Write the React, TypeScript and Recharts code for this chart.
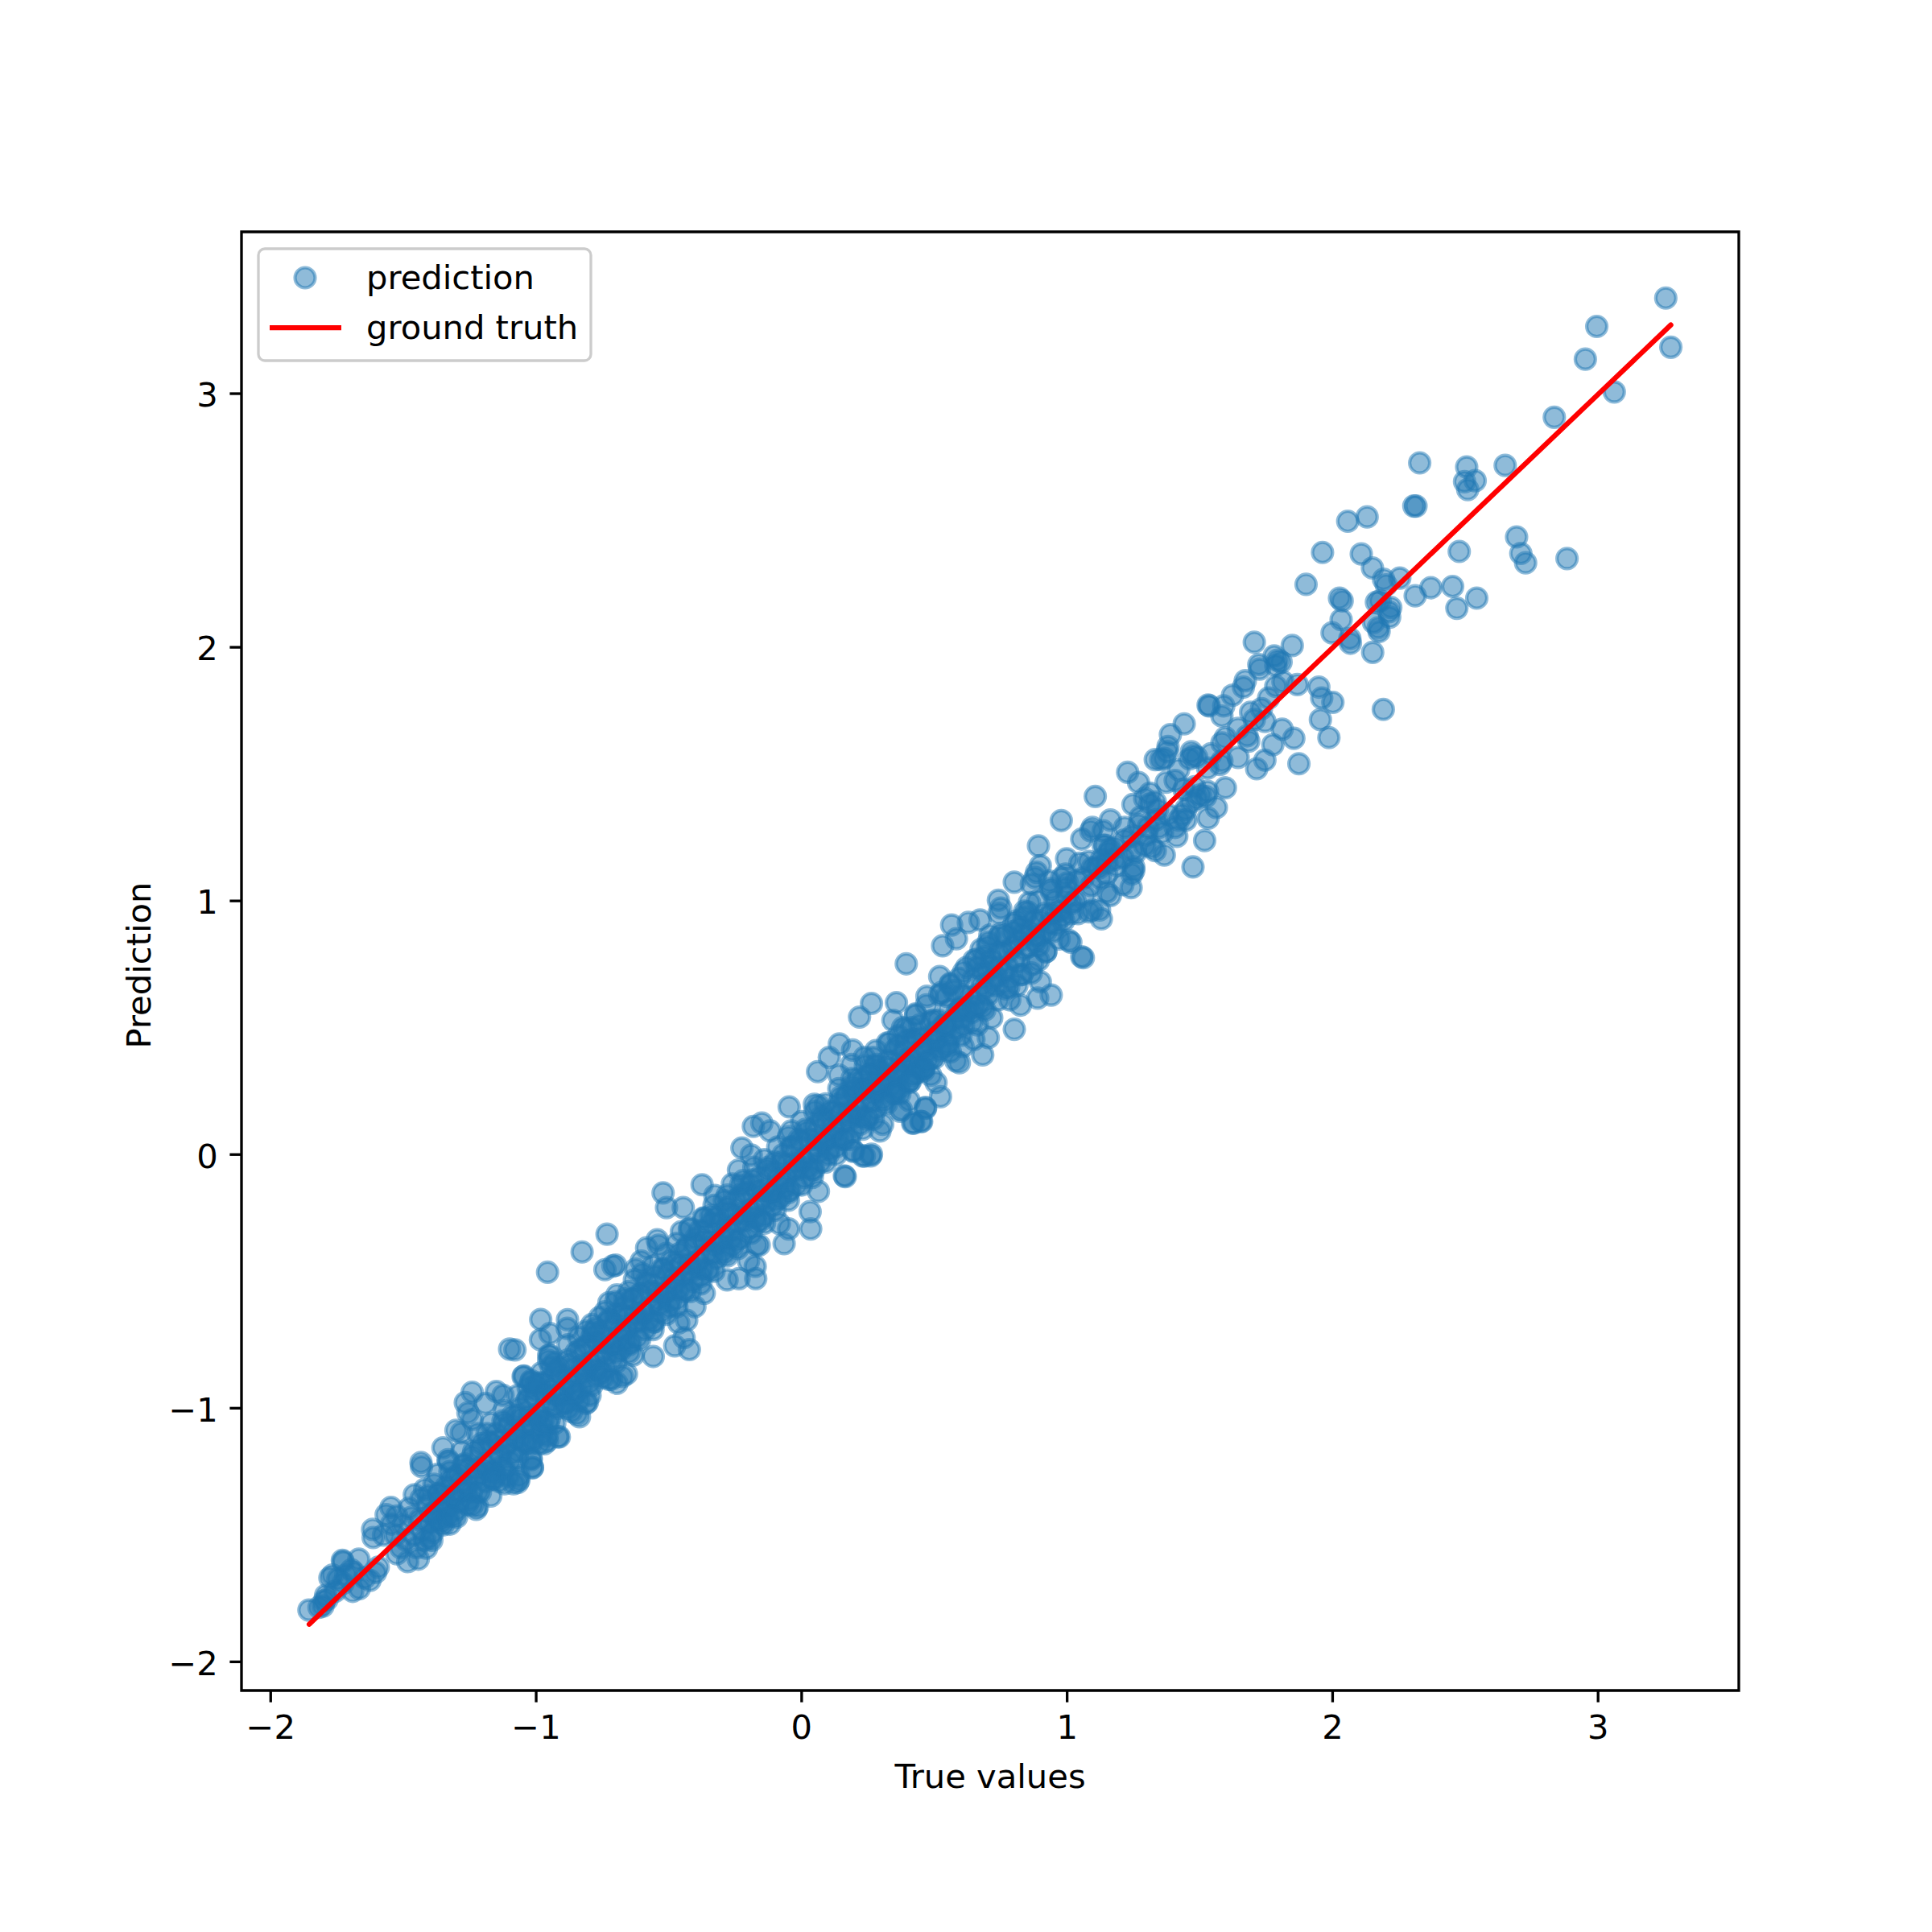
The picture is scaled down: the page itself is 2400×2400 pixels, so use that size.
import { Legend, ReferenceArea, Scatter, ScatterChart, XAxis, YAxis } from "recharts";

type Pair = [number, number];

const xTicks = [-2, -1, 0, 1, 2, 3];
const yTicks = [-2, -1, 0, 1, 2, 3];
const xDomain: Pair = [-2.11, 3.53];
const yDomain: Pair = [-2.113, 3.638];
const groundTruth: Pair[] = [[-1.855, -1.852], [3.274, 3.271]];

const upperTail: Pair[] = [
  [3.255, 3.377], [2.995, 3.265], [2.952, 3.136], [3.274, 3.183], [3.061, 3.007], [2.835, 2.907], [2.328, 2.727],
  [2.505, 2.711], [2.65, 2.717], [2.497, 2.653], [2.537, 2.657], [2.509, 2.622], [2.306, 2.557], [2.314, 2.557],
  [2.057, 2.497], [2.13, 2.514], [1.962, 2.374], [2.108, 2.368], [2.477, 2.378], [2.693, 2.435],
  [2.709, 2.37], [2.727, 2.333], [2.883, 2.35], [1.9, 2.248], [2.15, 2.313], [2.192, 2.268], [2.202, 2.246],
  [2.253, 2.273], [2.311, 2.203], [2.37, 2.235], [2.452, 2.24], [2.543, 2.194], [2.468, 2.154], [2.026, 2.194],
  [2.036, 2.183], [2.032, 2.109], [1.998, 2.057], [2.179, 2.183], [2.165, 2.178], [2.219, 2.157],
  [2.212, 2.14], [2.215, 2.119], [2.154, 2.098], [2.172, 2.077], [2.175, 2.062], [2.065, 2.034], [2.067, 2.016],
  [2.151, 1.98], [2.191, 1.755], [1.705, 2.02], [1.848, 2.007], [1.78, 1.966], [1.793, 1.949],
  [1.786, 1.928], [1.806, 1.942], [1.722, 1.932], [1.725, 1.914], [1.671, 1.868], [1.664, 1.843], [1.623, 1.811],
  [1.59, 1.769], [1.583, 1.729], [1.535, 1.769], [1.948, 1.843], [1.959, 1.8], [2.001, 1.783], [1.954, 1.715],
  [1.986, 1.644], [1.813, 1.864], [1.867, 1.853], [1.786, 1.846], [1.759, 1.8], [1.732, 1.758], [1.691, 1.744],
  [1.745, 1.708], [1.705, 1.715], [1.81, 1.677], [1.854, 1.641], [1.775, 1.616], [1.745, 1.555],
  [1.714, 1.521], [1.873, 1.541], [1.644, 1.566], [1.678, 1.651], [1.684, 1.63], [1.644, 1.68], [1.596, 1.644],
  [1.583, 1.623], [1.583, 1.552], [1.576, 1.538], [1.596, 1.446], [1.542, 1.58], [1.529, 1.524],
];

const middleBand: Pair[] = [
  [1.441, 1.698], [1.389, 1.656], [1.38, 1.609], [1.377, 1.588], [1.531, 1.772], [1.332, 1.557], [1.353, 1.557],
  [1.366, 1.562], [1.468, 1.588], [1.474, 1.574], [1.461, 1.56], [1.488, 1.567], [1.228, 1.507], [1.269, 1.467],
  [1.106, 1.412], [0.978, 1.317], [1.312, 1.425], [1.292, 1.404], [1.332, 1.39], [1.312, 1.382], [1.248, 1.38],
  [1.373, 1.468], [1.407, 1.475], [1.42, 1.517], [1.562, 1.368], [1.531, 1.326], [1.518, 1.238], [1.474, 1.134],
  [1.501, 1.418], [1.522, 1.411], [1.488, 1.404], [1.529, 1.432], [1.468, 1.39], [1.447, 1.361], [1.434, 1.34],
  [1.42, 1.319], [1.447, 1.319], [1.407, 1.29], [1.413, 1.255], [1.359, 1.269], [1.346, 1.29], [1.366, 1.181],
  [1.319, 1.212], [1.332, 1.198], [1.292, 1.219], [1.258, 1.191], [1.163, 1.319], [1.217, 1.29], [1.095, 1.29],
  [1.089, 1.276], [1.055, 1.244], [1.136, 1.276], [1.143, 1.219], [1.244, 1.255], [0.892, 1.217], [0.899, 1.139],
  [0.885, 1.113], [0.879, 1.092], [0.865, 1.066], [0.998, 1.166], [0.994, 1.106], [1.001, 1.071], [0.933, 1.078],
  [0.94, 1.049], [0.801, 1.074], [1.048, 1.149], [1.082, 1.156], [1.109, 1.134], [1.163, 1.205], [1.136, 1.219],
  [1.129, 1.163], [1.149, 1.106], [1.177, 1.163], [1.251, 1.12], [1.244, 1.106], [1.251, 1.134], [1.21, 1.064],
  [1.241, 1.052], [1.163, 1.021], [1.149, 1.035], [1.095, 0.964], [1.129, 0.929], [1.122, 0.964], [1.082, 0.957],
  [1.014, 0.95], [1.041, 0.95], [0.987, 0.922], [0.96, 0.908], [1.007, 0.844], [1.055, 0.78], [1.061, 0.776],
  [0.741, 1.003], [0.75, 0.972], [0.743, 0.95], [0.858, 0.993], [0.852, 0.957], [0.838, 0.936],
  [0.811, 0.922], [0.824, 0.894], [0.797, 0.879], [0.77, 0.865], [0.743, 0.858], [0.709, 0.865], [0.703, 0.837],
  [0.565, 0.905], [0.628, 0.915], [0.672, 0.925], [0.583, 0.851], [0.531, 0.823], [0.394, 0.752], [0.676, 0.809],
  [0.649, 0.766], [0.621, 0.738], [0.662, 0.738], [0.689, 0.78], [0.716, 0.766], [0.743, 0.794], [0.919, 0.799],
  [0.892, 0.823], [0.879, 0.865], [0.946, 0.879], [1.014, 0.837], [0.892, 0.766], [0.865, 0.716], [0.899, 0.681],
  [0.889, 0.617], [0.94, 0.629], [0.824, 0.589], [0.784, 0.61], [0.801, 0.494], [0.824, 0.709], [0.811, 0.667],
  [0.77, 0.653], [0.784, 0.695], [0.73, 0.667], [0.703, 0.631], [0.682, 0.582], [0.662, 0.511], [0.716, 0.539],
  [0.52, 0.702], [0.594, 0.695], [0.56, 0.674], [0.574, 0.646], [0.527, 0.639], [0.472, 0.624], [0.547, 0.624],
  [0.429, 0.554], [0.357, 0.599], [0.344, 0.529], [0.263, 0.596], [0.218, 0.542], [0.486, 0.525], [0.445, 0.511],
  [0.391, 0.497], [0.364, 0.468], [0.323, 0.44], [0.418, 0.454], [0.351, 0.412], [0.391, 0.412], [0.459, 0.426],
  [0.5, 0.483], [0.54, 0.511], [0.594, 0.568], [0.608, 0.539], [0.649, 0.582], [0.682, 0.393], [0.594, 0.362],
  [0.581, 0.369], [0.56, 0.405], [0.649, 0.454], [0.703, 0.461], [0.608, 0.426], [0.523, 0.228], [0.506, 0.284],
  [0.486, 0.313], [0.459, 0.341], [0.418, 0.313], [0.472, 0.369], [0.466, 0.185], [0.449, 0.131], [0.418, 0.124],
  [0.371, 0.171], [0.405, 0.213], [0.142, 0.436], [0.192, 0.412], [0.104, 0.383], [0.06, 0.327], [0.188, 0.355],
  [0.141, 0.313], [0.236, 0.383], [0.269, 0.383], [0.283, 0.355], [0.323, 0.341], [0.364, 0.313], [0.405, 0.284],
  [0.351, 0.242], [0.283, 0.284], [0.256, 0.313], [0.229, 0.256], [0.188, 0.27], [0.148, 0.228], [0.263, 0.001],
  [0.236, -0.006], [0.195, 0.015], [0.161, -0.084],
];

const zeroBand: Pair[] = [
  [-0.047, 0.188], [0.048, 0.198], [0.063, 0.193], [-0.182, 0.111], [-0.15, 0.124], [-0.119, 0.093], [-0.039, 0.093],
  [-0.225, 0.026], [-0.19, -0.002], [-0.238, -0.061], [-0.261, -0.116], [-0.22, -0.103], [-0.375, -0.119],
  [-0.327, -0.161], [-0.291, -0.182], [-0.522, -0.151], [-0.509, -0.209], [-0.446, -0.209], [-0.367, -0.251],
  [-0.342, -0.241], [-0.453, -0.304], [-0.423, -0.294], [-0.544, -0.336], [-0.584, -0.368], [-0.539, -0.357],
  [-0.733, -0.314], [-0.827, -0.384], [-0.957, -0.464], [-0.741, -0.454], [-0.711, -0.439], [-0.701, -0.436],
  [-0.604, -0.42], [-0.625, -0.452], [-0.63, -0.494], [-0.696, -0.553], [-0.726, -0.584], [-0.665, -0.569],
  [-0.761, -0.642], [-0.983, -0.65], [-0.882, -0.651], [-0.883, -0.685], [-0.948, -0.706], [-0.984, -0.73],
  [-0.812, -0.696], [-0.776, -0.685], [-0.948, -0.791], [-0.953, -0.812], [-0.943, -0.838], [-1.08, -0.77],
  [-1.049, -0.875], [-1.019, -0.897], [-0.999, -0.907], [0.164, -0.087], [0.23, -0.005], [0.26, -0.005],
  [0.194, 0.013], [0.295, 0.093], [0.305, 0.119], [0.376, 0.177], [0.422, 0.124], [0.452, 0.13], [0.467, 0.183],
  [0.032, -0.225], [0.034, -0.293], [0.063, -0.145], [-0.066, -0.351], [-0.049, -0.293], [-0.084, -0.272],
  [-0.17, -0.357], [-0.16, -0.357], [-0.175, -0.441], [-0.173, -0.489], [-0.236, -0.489], [-0.281, -0.494],
  [-0.2, -0.42], [-0.367, -0.547], [-0.402, -0.6], [-0.433, -0.653], [-0.463, -0.664], [-0.443, -0.722],
  [-0.423, -0.769], [-0.478, -0.754], [-0.559, -0.796], [-0.635, -0.791], [-0.66, -0.865], [-0.696, -0.902],
  [-0.726, -0.886], [-0.807, -0.976], [-0.837, -1.034], [-0.867, -1.013], [-0.918, -1.113], [-0.958, -1.129],
  [-0.989, -1.14], [-1.019, -1.198], [-1.014, -1.233], [-1.065, -1.283],
];

const lowerTail: Pair[] = [
  [-1.1, -0.767], [-0.953, -0.791], [-1.046, -0.873], [-1.019, -0.891], [-1.241, -0.937], [-1.15, -0.934],
  [-1.125, -0.949], [-1.267, -0.978], [-1.191, -0.981], [-1.257, -1.018], [-1.241, -1.045], [-1.302, -1.087],
  [-1.282, -1.097], [-1.351, -1.156], [-1.332, -1.203], [-1.434, -1.214], [-1.432, -1.23], [-1.459, -1.341],
  [-1.434, -1.357], [-1.479, -1.394], [-1.547, -1.391], [-1.565, -1.42], [-1.525, -1.425], [-1.545, -1.457],
  [-1.616, -1.478], [-1.614, -1.51], [-1.575, -1.5], [-1.668, -1.595], [-1.73, -1.6], [-1.727, -1.605],
  [-1.767, -1.658], [-1.747, -1.674], [-1.777, -1.669], [-1.793, -1.738], [-1.798, -1.759], [-1.803, -1.78],
  [-1.856, -1.796], [-1.691, -1.722], [-1.717, -1.658], [-1.686, -1.648], [-1.646, -1.669], [-1.605, -1.648],
  [-1.595, -1.627], [-1.626, -1.679], [-1.666, -1.711], [-1.696, -1.637], [-1.727, -1.69], [-1.757, -1.722],
  [-1.787, -1.753], [-1.818, -1.785], [-1.484, -1.605], [-1.444, -1.595], [-1.525, -1.574], [-1.413, -1.552],
  [-1.393, -1.521], [-1.325, -1.457], [-1.332, -1.425], [-1.312, -1.425], [-1.226, -1.399], [-1.221, -1.388],
  [-1.171, -1.346], [-1.241, -1.383], [-1.07, -1.293], [-1.085, -1.298], [-1.12, -1.298], [-1.14, -1.288],
  [-1.161, -1.277], [-1.105, -1.267], [-1.065, -1.267], [-1.014, -1.235], [-1.019, -1.203], [-0.969, -1.14],
  [-0.913, -1.113], [-0.958, -1.108], [-0.847, -1.023], [-0.812, -0.981], [-0.797, -0.949], [-0.716, -0.886],
  [-0.675, -0.875],
];

// estimated inside the solid part of the band, single points can't be told apart there
const coreLow: Pair[] = [
  [-1.53, -1.5], [-1.51, -1.55], [-1.5, -1.46], [-1.49, -1.52], [-1.47, -1.43], [-1.46, -1.5], [-1.45, -1.55],
  [-1.44, -1.44], [-1.43, -1.48], [-1.42, -1.52], [-1.41, -1.38], [-1.4, -1.45], [-1.39, -1.49], [-1.38, -1.41],
  [-1.37, -1.34], [-1.36, -1.44], [-1.35, -1.38], [-1.34, -1.31], [-1.33, -1.39], [-1.32, -1.28], [-1.31, -1.35],
  [-1.3, -1.4], [-1.29, -1.26], [-1.28, -1.33], [-1.27, -1.22], [-1.26, -1.3], [-1.25, -1.36], [-1.24, -1.19],
  [-1.23, -1.28], [-1.22, -1.33], [-1.21, -1.16], [-1.2, -1.24], [-1.19, -1.29], [-1.18, -1.13], [-1.17, -1.21],
  [-1.16, -1.25], [-1.15, -1.1], [-1.14, -1.18], [-1.13, -1.23], [-1.12, -1.06], [-1.11, -1.14], [-1.1, -1.21],
  [-1.09, -1.03], [-1.08, -1.12], [-1.07, -1.17], [-1.06, -1.0], [-1.05, -1.08], [-1.04, -1.14], [-1.03, -0.96],
  [-1.02, -1.05], [-1.01, -1.12], [-1.0, -0.93], [-0.99, -1.02], [-0.98, -1.07], [-0.97, -0.9], [-0.96, -0.98],
  [-0.95, -1.04], [-0.94, -0.88], [-0.93, -0.95], [-0.92, -1.0], [-0.91, -0.84], [-0.9, -0.93], [-0.89, -0.98],
  [-0.88, -0.81], [-0.87, -0.9], [-0.86, -0.95], [-0.85, -0.78], [-0.84, -0.87], [-0.83, -0.92], [-0.82, -0.76],
  [-0.81, -0.84], [-0.8, -0.9], [-0.79, -0.72], [-0.78, -0.81], [-0.77, -0.87], [-0.76, -0.7], [-0.75, -0.78],
  [-0.74, -0.84], [-0.73, -0.66], [-0.72, -0.75], [-0.71, -0.8], [-0.7, -0.63], [-0.69, -0.72], [-0.68, -0.77],
  [-0.67, -0.6], [-0.66, -0.69], [-0.65, -0.75], [-0.64, -0.57], [-0.63, -0.66], [-0.62, -0.72], [-0.61, -0.55],
  [-0.6, -0.63], [-0.59, -0.69], [-0.58, -0.51], [-0.57, -0.6], [-0.56, -0.66], [-0.55, -0.48], [-0.54, -0.57],
  [-0.53, -0.62], [-0.52, -0.45], [-0.51, -0.54], [-0.5, -0.6], [-0.49, -0.42], [-0.48, -0.51], [-0.47, -0.57],
  [-0.46, -0.39], [-0.45, -0.48], [-0.44, -0.53], [-0.43, -0.36], [-0.42, -0.45], [-0.41, -0.5], [-0.4, -0.33],
  [-0.39, -0.42], [-0.38, -0.48], [-0.37, -0.3], [-0.36, -0.39], [-0.35, -0.45], [-0.34, -0.27], [-0.33, -0.36],
  [-0.32, -0.41],
];

const coreHigh: Pair[] = [
  [-0.31, -0.24], [-0.3, -0.33], [-0.29, -0.39], [-0.28, -0.21], [-0.27, -0.3], [-0.26, -0.36], [-0.25, -0.18],
  [-0.24, -0.27], [-0.23, -0.33], [-0.22, -0.15], [-0.21, -0.24], [-0.2, -0.29], [-0.19, -0.12], [-0.18, -0.21],
  [-0.17, -0.27], [-0.16, -0.09], [-0.15, -0.18], [-0.14, -0.24], [-0.13, -0.06], [-0.12, -0.15], [-0.11, -0.2],
  [-0.1, -0.03], [-0.09, -0.12], [-0.08, -0.17], [-0.07, 0.0], [-0.06, -0.09], [-0.05, -0.15], [-0.04, 0.03],
  [-0.03, -0.06], [-0.02, -0.12], [-0.01, 0.06], [0.0, -0.03], [0.01, -0.09], [0.02, 0.09], [0.03, 0.0],
  [0.04, -0.06], [0.05, 0.11], [0.06, 0.03], [0.07, -0.03], [0.08, 0.14], [0.09, 0.06], [0.1, 0.0], [0.11, 0.17],
  [0.12, 0.09], [0.13, 0.03], [0.14, 0.2], [0.15, 0.12], [0.16, 0.06], [0.17, 0.23], [0.18, 0.15], [0.19, 0.09],
  [0.2, 0.26], [0.21, 0.18], [0.22, 0.12], [0.23, 0.29], [0.24, 0.21], [0.25, 0.15], [0.26, 0.32], [0.27, 0.24],
  [0.28, 0.18], [0.3, 0.27], [0.31, 0.21], [0.33, 0.3], [0.34, 0.24], [0.36, 0.33], [0.37, 0.26], [0.39, 0.36],
  [0.4, 0.29], [0.42, 0.38], [0.43, 0.32], [0.45, 0.41], [0.46, 0.34], [0.48, 0.44], [0.49, 0.38], [0.51, 0.46],
  [0.52, 0.41], [0.54, 0.49], [0.55, 0.44], [0.57, 0.53], [0.58, 0.5], [0.6, 0.58], [0.61, 0.51], [0.63, 0.62],
  [0.64, 0.56], [0.66, 0.63], [0.68, 0.67], [0.7, 0.72], [0.72, 0.69], [0.74, 0.74], [0.76, 0.72], [0.78, 0.8],
  [0.8, 0.77], [0.82, 0.84], [0.84, 0.81], [0.86, 0.88], [0.88, 0.84], [0.9, 0.92], [0.92, 0.88], [0.94, 0.95],
  [0.96, 0.96], [0.98, 0.94], [1.0, 1.02], [1.03, 1.0], [1.06, 1.09], [1.09, 1.06], [1.12, 1.13], [1.15, 1.15],
  [1.18, 1.21], [1.21, 1.17], [1.27, 1.3], [1.3, 1.26], [1.34, 1.36], [1.38, 1.34], [1.44, 1.44], [1.48, 1.45],
];

// second pass over the solid band, these fill the gaps left by the lists above
const fillLow: Pair[] = [
  [-1.405, -1.345], [-1.395, -1.415], [-1.385, -1.3], [-1.375, -1.44], [-1.365, -1.335], [-1.355, -1.45],
  [-1.345, -1.34], [-1.335, -1.385], [-1.325, -1.25], [-1.315, -1.345], [-1.305, -1.27], [-1.295, -1.37],
  [-1.285, -1.29], [-1.275, -1.225], [-1.265, -1.325], [-1.255, -1.24], [-1.245, -1.33], [-1.235, -1.17],
  [-1.225, -1.24], [-1.215, -1.26], [-1.205, -1.14], [-1.195, -1.22], [-1.185, -1.1], [-1.175, -1.25],
  [-1.165, -1.14], [-1.155, -1.26], [-1.145, -1.13], [-1.135, -1.19], [-1.125, -1.05], [-1.115, -1.15],
  [-1.105, -1.07], [-1.095, -1.18], [-1.085, -1.09], [-1.075, -1.03], [-1.065, -1.12], [-1.055, -1.04],
  [-1.045, -1.13], [-1.035, -0.97], [-1.025, -1.03], [-1.015, -1.06], [-1.005, -0.95], [-0.995, -1.03],
  [-0.985, -0.9], [-0.975, -1.05], [-0.965, -0.94], [-0.955, -1.06], [-0.945, -0.93], [-0.935, -0.99],
  [-0.925, -0.85], [-0.915, -0.95], [-0.905, -0.87], [-0.895, -0.98], [-0.885, -0.89], [-0.875, -0.83],
  [-0.865, -0.93], [-0.855, -0.84], [-0.845, -0.94], [-0.835, -0.77], [-0.825, -0.83], [-0.815, -0.86],
  [-0.805, -0.75], [-0.795, -0.82], [-0.785, -0.7], [-0.775, -0.85], [-0.765, -0.74], [-0.755, -0.86],
  [-0.745, -0.74], [-0.735, -0.79], [-0.725, -0.65], [-0.715, -0.75], [-0.705, -0.67], [-0.695, -0.78],
  [-0.685, -0.69], [-0.675, -0.63], [-0.665, -0.73], [-0.655, -0.64], [-0.645, -0.74], [-0.635, -0.57],
  [-0.625, -0.63], [-0.615, -0.66], [-0.605, -0.55], [-0.595, -0.62], [-0.585, -0.5], [-0.575, -0.65],
  [-0.565, -0.54], [-0.555, -0.66], [-0.545, -0.54], [-0.535, -0.59], [-0.525, -0.45], [-0.515, -0.55],
  [-0.505, -0.47], [-0.495, -0.58], [-0.485, -0.49], [-0.475, -0.43], [-0.465, -0.53], [-0.455, -0.44],
  [-0.445, -0.54], [-0.435, -0.37], [-0.425, -0.43], [-0.415, -0.46], [-0.405, -0.35], [-0.395, -0.42],
  [-0.385, -0.3], [-0.375, -0.45], [-0.365, -0.34], [-0.355, -0.46], [-0.345, -0.34], [-0.335, -0.39],
  [-0.325, -0.25], [-0.315, -0.35], [-0.305, -0.27], [-0.295, -0.38], [-0.285, -0.29], [-0.275, -0.23],
  [-0.265, -0.33], [-0.255, -0.24], [-0.245, -0.34], [-0.235, -0.17], [-0.225, -0.23], [-0.215, -0.26],
];

const fillHigh: Pair[] = [
  [-0.205, -0.15], [-0.195, -0.22], [-0.185, -0.1], [-0.175, -0.25], [-0.165, -0.14], [-0.155, -0.26],
  [-0.145, -0.14], [-0.135, -0.19], [-0.125, -0.05], [-0.115, -0.15], [-0.105, -0.07], [-0.095, -0.18],
  [-0.085, -0.09], [-0.075, -0.03], [-0.065, -0.13], [-0.055, -0.04], [-0.045, -0.14], [-0.035, 0.03],
  [-0.025, -0.03], [-0.015, -0.06], [-0.005, 0.05], [0.005, -0.02], [0.015, 0.1], [0.025, -0.05], [0.035, 0.06],
  [0.045, -0.06], [0.055, 0.06], [0.065, 0.01], [0.075, 0.15], [0.085, 0.05], [0.095, 0.13], [0.105, 0.02],
  [0.115, 0.11], [0.125, 0.17], [0.135, 0.07], [0.145, 0.16], [0.155, 0.06], [0.165, 0.23], [0.175, 0.17],
  [0.185, 0.14], [0.195, 0.25], [0.205, 0.18], [0.215, 0.3], [0.225, 0.15], [0.235, 0.26], [0.245, 0.14],
  [0.255, 0.26], [0.265, 0.21], [0.275, 0.35], [0.285, 0.25], [0.295, 0.33], [0.305, 0.22], [0.315, 0.31],
  [0.325, 0.37], [0.335, 0.27], [0.345, 0.36], [0.355, 0.26], [0.365, 0.43], [0.375, 0.37], [0.385, 0.34],
  [0.395, 0.45], [0.405, 0.38], [0.415, 0.5], [0.425, 0.35], [0.435, 0.46], [0.445, 0.34], [0.455, 0.46],
  [0.475, 0.41], [0.495, 0.53], [0.505, 0.45], [0.515, 0.53], [0.525, 0.42], [0.535, 0.51], [0.555, 0.57],
  [0.565, 0.47], [0.585, 0.56], [0.605, 0.63], [0.625, 0.57], [0.645, 0.69], [0.665, 0.59], [0.685, 0.72],
  [0.695, 0.66], [0.715, 0.74], [0.735, 0.7], [0.755, 0.8], [0.775, 0.74], [0.795, 0.82], [0.815, 0.76],
  [0.835, 0.87], [0.855, 0.82], [0.875, 0.92], [0.895, 0.86], [0.915, 0.95], [0.935, 0.91], [0.955, 1.0],
  [0.975, 0.96], [0.995, 1.05], [1.015, 0.99], [1.035, 1.08], [1.065, 1.02], [1.095, 1.13], [1.125, 1.09],
  [1.155, 1.19], [1.185, 1.14], [1.215, 1.24], [1.245, 1.2], [1.275, 1.33], [1.305, 1.29], [1.335, 1.32],
];

// points along both edges of the solid band, which is wider than the fill lists alone
const edgeAbove: Pair[] = [
  [-1.42, -1.32], [-1.37, -1.26], [-1.33, -1.21], [-1.28, -1.17], [-1.22, -1.1], [-1.17, -1.06], [-1.12, -1.01],
  [-1.07, -0.95], [-1.03, -0.92], [-0.98, -0.86], [-0.93, -0.82], [-0.88, -0.75], [-0.84, -0.72], [-0.79, -0.67],
  [-0.74, -0.62], [-0.7, -0.58], [-0.65, -0.54], [-0.6, -0.47], [-0.56, -0.44], [-0.51, -0.39], [-0.47, -0.35],
  [-0.42, -0.29], [-0.37, -0.25], [-0.33, -0.2], [-0.28, -0.16], [-0.23, -0.12], [-0.18, -0.05], [-0.14, -0.02],
  [-0.09, 0.03], [-0.05, 0.07], [0.0, 0.13], [0.05, 0.17], [0.09, 0.2], [0.14, 0.26], [0.19, 0.3], [0.24, 0.35],
  [0.28, 0.41], [0.33, 0.44], [0.38, 0.5], [0.43, 0.55], [0.47, 0.59], [0.52, 0.63], [0.56, 0.67], [0.61, 0.72],
  [0.66, 0.77], [0.7, 0.82], [0.75, 0.87], [0.8, 0.91], [0.84, 0.96], [0.89, 1.0], [0.94, 1.04], [0.98, 1.09],
];

const edgeBelow: Pair[] = [
  [-1.4, -1.51], [-1.35, -1.46], [-1.3, -1.43], [-1.26, -1.38], [-1.21, -1.33], [-1.16, -1.28], [-1.12, -1.24],
  [-1.07, -1.2], [-1.02, -1.14], [-0.98, -1.1], [-0.93, -1.06], [-0.88, -1.0], [-0.84, -0.97], [-0.79, -0.91],
  [-0.75, -0.88], [-0.7, -0.82], [-0.65, -0.78], [-0.61, -0.73], [-0.56, -0.69], [-0.51, -0.63], [-0.47, -0.6],
  [-0.42, -0.54], [-0.38, -0.51], [-0.33, -0.46], [-0.28, -0.4], [-0.24, -0.37], [-0.19, -0.31], [-0.14, -0.27],
  [-0.1, -0.22], [-0.05, -0.18], [0.0, -0.12], [0.04, -0.09], [0.09, -0.03], [0.13, 0.0], [0.18, 0.06], [0.23, 0.1],
  [0.27, 0.14], [0.32, 0.2], [0.37, 0.24], [0.41, 0.29], [0.46, 0.33], [0.5, 0.38], [0.55, 0.43], [0.6, 0.47],
  [0.64, 0.52], [0.69, 0.57], [0.74, 0.61], [0.78, 0.66], [0.83, 0.71], [0.87, 0.75], [0.92, 0.8], [0.97, 0.85],
];

const predictions = [
  ...coreLow, ...fillLow, ...coreHigh, ...fillHigh, ...edgeAbove, ...edgeBelow,
  ...lowerTail, ...zeroBand, ...middleBand, ...upperTail,
].map(([x, y]) => ({ x, y }));
const truthLine = groundTruth.map(([x, y]) => ({ x, y }));

const BLUE = "#1f77b4";
const TICK_FONT = { fontFamily: "DejaVu Sans", fontSize: 41.67, fill: "#000" };
const minusSign = (v: number) => String(v).replace("-", "\u2212");

function Dot({ cx, cy }: { cx?: number; cy?: number }) {
  return <circle cx={cx} cy={cy} r={12.5} fill={BLUE} fillOpacity={0.5} stroke={BLUE} strokeOpacity={0.5} strokeWidth={4.17} />;
}

function NoDot() {
  return <g />;
}

function LegendBox() {
  return (
    <svg width={420} height={146} style={{ display: "block" }}>
      <rect x={2} y={2} width={413} height={139} rx={8} fill="#fff" fillOpacity={0.8} stroke="#ccc" strokeWidth={3.33} />
      <circle cx={60} cy={38} r={12.5} fill={BLUE} fillOpacity={0.5} stroke={BLUE} strokeOpacity={0.5} strokeWidth={4.17} />
      <line x1={16} x2={105} y1={100} y2={100} stroke="#f00" strokeWidth={6.25} />
      <g fontFamily="DejaVu Sans" fontSize={41.67}>
        <text x={136} y={52}>prediction</text>
        <text x={136} y={114}>ground truth</text>
      </g>
    </svg>
  );
}

export default function App() {
  return (
    <div style={{ position: "absolute", left: 0, top: 0, width: 2400, height: 2400 }}>
      <ScatterChart width={2400} height={2400} margin={{ top: 288, right: 240, bottom: 150, left: 150 }}>
        <XAxis
          type="number"
          dataKey="x"
          domain={xDomain}
          ticks={xTicks}
          interval={0}
          height={150}
          axisLine={false}
          tickSize={14.6}
          tickMargin={16}
          tickLine={{ stroke: "#000", strokeWidth: 3.33 }}
          tick={TICK_FONT}
          tickFormatter={minusSign}
          label={{ value: "True values", position: "insideBottom", offset: 29, fontFamily: "DejaVu Sans", fontSize: 41.67, fill: "#000" }}
        />
        <YAxis
          type="number"
          dataKey="y"
          domain={yDomain}
          ticks={yTicks}
          interval={0}
          width={150}
          axisLine={false}
          tickSize={14.6}
          tickMargin={14.6}
          tick={{ ...TICK_FONT, dy: 1.5 }}
          tickLine={{ stroke: "#000", strokeWidth: 3.33 }}
          tickFormatter={minusSign}
          label={{ value: "Prediction", angle: -90, position: "insideLeft", offset: 22, dy: 5, style: { textAnchor: "middle" }, fontFamily: "DejaVu Sans", fontSize: 41.67, fill: "#000" }}
        />
        <ReferenceArea x1={xDomain[0]} x2={xDomain[1]} y1={yDomain[0]} y2={yDomain[1]} fill="none" stroke="#000" strokeWidth={3.33} />
        <Scatter data={predictions} shape={Dot} isAnimationActive={false} />
        <Scatter
          data={truthLine}
          shape={NoDot}
          line={{ stroke: "#f00", strokeWidth: 6.25, strokeLinecap: "round" }}
          isAnimationActive={false}
        />
        <Legend
          layout="horizontal"
          verticalAlign="middle"
          align="center"
          content={LegendBox}
          wrapperStyle={{ position: "absolute", left: 319, top: 307, width: 420, height: 146 }}
        />
      </ScatterChart>
    </div>
  );
}
